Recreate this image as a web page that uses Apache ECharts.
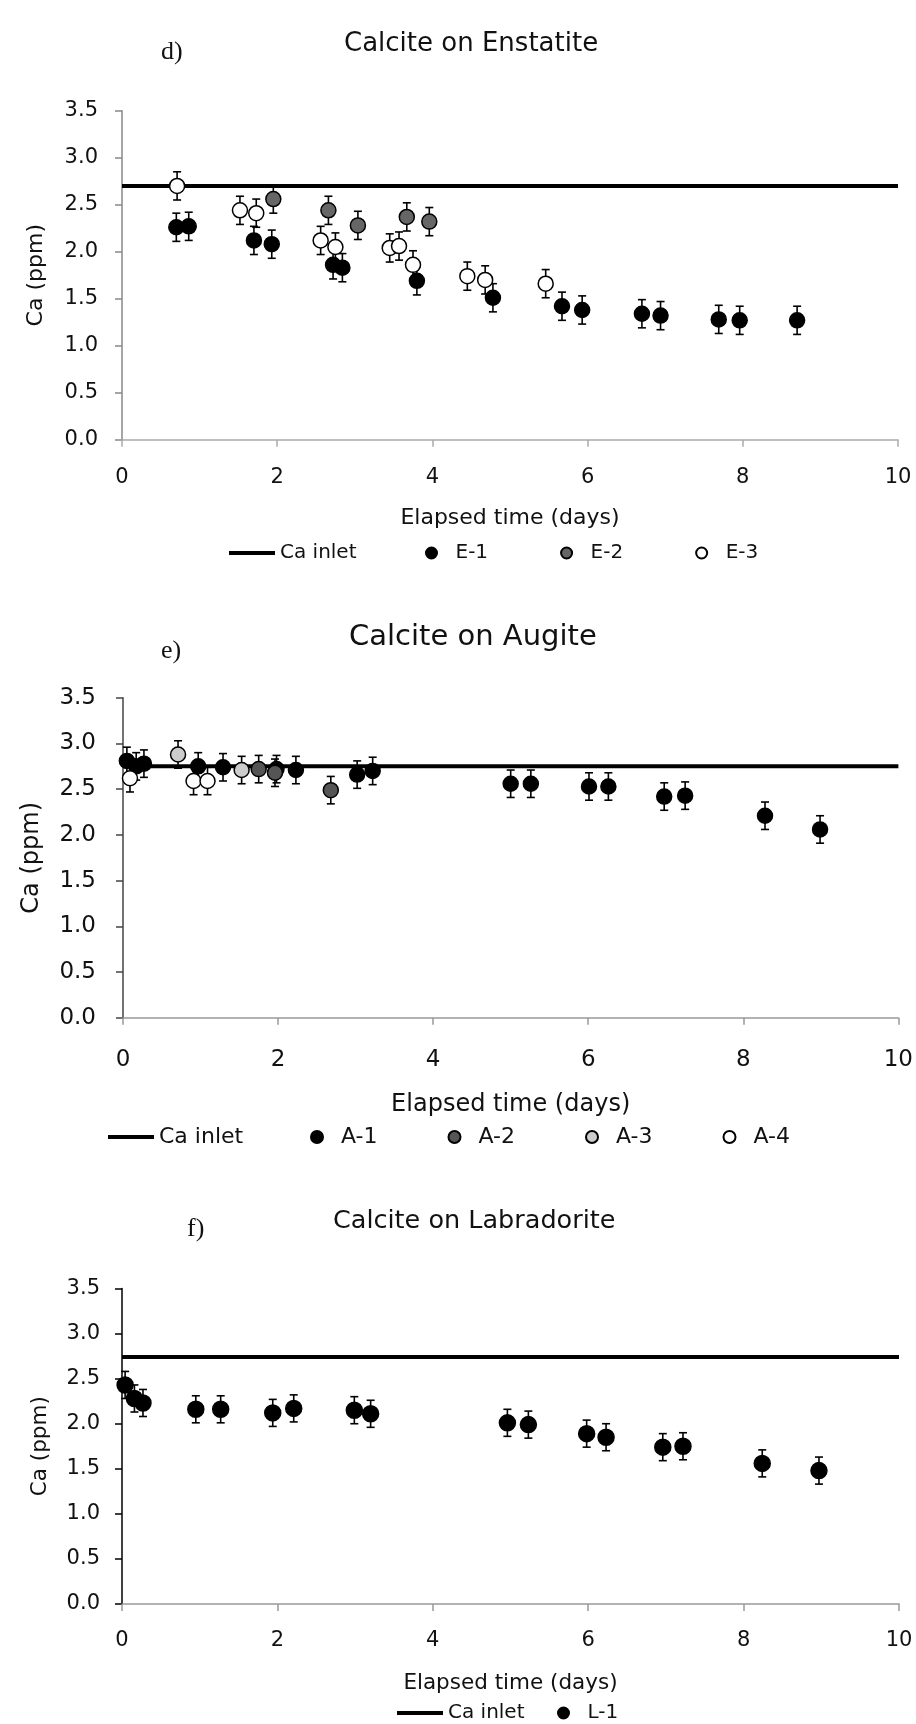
<!DOCTYPE html>
<html>
<head>
<meta charset="utf-8">
<script src="https://cdn.jsdelivr.net/npm/echarts@6/dist/echarts.min.js"></script>
<style>
html,body{margin:0;padding:0;background:#fff;}
#c{width:916px;height:1724px;}
</style>
</head>
<body>
<div id="c"></div>
<script>
// ---------- DATA ----------
const X_TICKS = [0, 2, 4, 6, 8, 10];
const Y_TICKS = ['0.0','0.5','1.0','1.5','2.0','2.5','3.0','3.5'];

// Panel d: Calcite on Enstatite
const D_INLET = 2.70;
const E1_x = [0.70, 0.86, 1.70, 1.93, 2.72, 2.84, 3.80, 4.78, 5.67, 5.93, 6.70, 6.94, 7.69, 7.96, 8.70];
const E1_y = [2.26, 2.27, 2.12, 2.08, 1.86, 1.83, 1.69, 1.51, 1.42, 1.38, 1.34, 1.32, 1.28, 1.27, 1.27];
const E2_x = [1.95, 2.66, 3.04, 3.67, 3.96];
const E2_y = [2.56, 2.44, 2.28, 2.37, 2.32];
const E3_x = [0.71, 1.52, 1.73, 2.56, 2.75, 3.45, 3.57, 3.75, 4.45, 4.68, 5.46];
const E3_y = [2.70, 2.44, 2.41, 2.12, 2.05, 2.04, 2.06, 1.86, 1.74, 1.70, 1.66];

// Panel e: Calcite on Augite
const E_INLET = 2.75;
const A1_x = [0.05, 0.17, 0.27, 0.97, 1.29, 1.98, 2.23, 3.02, 3.22, 5.00, 5.26, 6.01, 6.26, 6.98, 7.25, 8.28, 8.99];
const A1_y = [2.81, 2.75, 2.78, 2.75, 2.74, 2.72, 2.71, 2.66, 2.70, 2.56, 2.56, 2.53, 2.53, 2.42, 2.43, 2.21, 2.06];
const A2_x = [1.75, 1.96, 2.68];
const A2_y = [2.72, 2.68, 2.49];
const A3_x = [0.71, 1.53];
const A3_y = [2.88, 2.71];
const A4_x = [0.09, 0.91, 1.09];
const A4_y = [2.62, 2.59, 2.59];

// Panel f: Calcite on Labradorite
const F_INLET = 2.74;
const L1_x = [0.04, 0.16, 0.27, 0.95, 1.27, 1.94, 2.21, 2.99, 3.20, 4.96, 5.23, 5.98, 6.23, 6.96, 7.22, 8.24, 8.97];
const L1_y = [2.43, 2.28, 2.23, 2.16, 2.16, 2.12, 2.17, 2.15, 2.11, 2.01, 1.99, 1.89, 1.85, 1.74, 1.75, 1.56, 1.48];

// error bar half-width (ppm)
const ERR = 0.15;

// ---------- CHART ----------
const FONT = 'DejaVu Sans';
const pts = (xs, ys) => xs.map((x, i) => [x, ys[i]]);
const errPts = (xs, ys) => xs.map((x, i) => [x, ys[i], ERR]);

function renderErr(params, api) {
  const x = api.value(0), y = api.value(1), e = api.value(2);
  const hi = api.coord([x, y + e]);
  const lo = api.coord([x, y - e]);
  const w = 4;
  const st = { stroke: '#000', lineWidth: 1.6 };
  return { type: 'group', children: [
    { type: 'line', shape: { x1: hi[0], y1: hi[1], x2: lo[0], y2: lo[1] }, style: st },
    { type: 'line', shape: { x1: hi[0] - w, y1: hi[1], x2: hi[0] + w, y2: hi[1] }, style: st },
    { type: 'line', shape: { x1: lo[0] - w, y1: lo[1], x2: lo[0] + w, y2: lo[1] }, style: st }
  ]};
}

const panels = [
  { grid: { left: 122, right: 18, top: 110.7, height: 329 },
    yAxisColor: '#888', xAxisColor: '#aaa', tickFont: 21, nameFont: 22,
    yLabelMargin: 24, xLabelMargin: 27, xNameGap: 68, yNameGap: 75,
    inlet: D_INLET, size: 15,
    series: [
      { name: 'E-1', xs: E1_x, ys: E1_y, color: '#000' },
      { name: 'E-2', xs: E2_x, ys: E2_y, color: '#666' },
      { name: 'E-3', xs: E3_x, ys: E3_y, color: '#fff' }
    ]},
  { grid: { left: 123, right: 17, top: 697.8, height: 320 },
    yAxisColor: '#444', xAxisColor: '#999', tickFont: 23, nameFont: 24,
    yLabelMargin: 27, xLabelMargin: 31, xNameGap: 75, yNameGap: 79,
    inlet: E_INLET, size: 15,
    series: [
      { name: 'A-1', xs: A1_x, ys: A1_y, color: '#000' },
      { name: 'A-2', xs: A2_x, ys: A2_y, color: '#555' },
      { name: 'A-3', xs: A3_x, ys: A3_y, color: '#ccc' },
      { name: 'A-4', xs: A4_x, ys: A4_y, color: '#fff' }
    ]},
  { grid: { left: 122, right: 17, top: 1288.5, height: 315.5 },
    yAxisColor: '#000', xAxisColor: '#999', tickFont: 21, nameFont: 21.5,
    yLabelMargin: 22, xLabelMargin: 26, xNameGap: 68, yNameGap: 71,
    inlet: F_INLET, size: 16,
    series: [
      { name: 'L-1', xs: L1_x, ys: L1_y, color: '#000' }
    ]}
];

const lineLegend = (left, top, fs) => ({
  data: [{ name: 'Ca inlet', icon: 'rect' }], left: left, top: top, padding: 0,
  itemWidth: 46, itemHeight: 4, lineStyle: { width: 4 },
  textStyle: { fontFamily: FONT, fontSize: fs, color: '#111' }, selectedMode: false
});

const option = {
  animation: false,
  backgroundColor: '#fff',
  textStyle: { fontFamily: FONT },
  title: [
    { text: 'Calcite on Enstatite', left: 344, top: 31, padding: 0, textStyle: { fontFamily: FONT, fontSize: 26, fontWeight: 'normal', color: '#111' } },
    { text: 'd)', left: 161, top: 39, padding: 0, textStyle: { fontFamily: 'Liberation Serif', fontSize: 26, fontWeight: 'normal', color: '#111' } },
    { text: 'Calcite on Augite', left: 349, top: 623, padding: 0, textStyle: { fontFamily: FONT, fontSize: 29, fontWeight: 'normal', color: '#111' } },
    { text: 'e)', left: 161, top: 638, padding: 0, textStyle: { fontFamily: 'Liberation Serif', fontSize: 26, fontWeight: 'normal', color: '#111' } },
    { text: 'Calcite on Labradorite', left: 333, top: 1208, padding: 0, textStyle: { fontFamily: FONT, fontSize: 25.5, fontWeight: 'normal', color: '#111' } },
    { text: 'f)', left: 187, top: 1216, padding: 0, textStyle: { fontFamily: 'Liberation Serif', fontSize: 26, fontWeight: 'normal', color: '#111' } }
  ],
  grid: [], xAxis: [], yAxis: [], series: [],
  legend: [
    lineLegend(229, 543, 20),
    { data: ['E-1', 'E-2', 'E-3'], left: 425, top: 543, padding: 0, itemWidth: 38, itemHeight: 11, itemGap: 72,
      textStyle: { fontFamily: FONT, fontSize: 20, color: '#111' }, selectedMode: false },
    lineLegend(108, 1126, 22),
    { data: ['A-1', 'A-2', 'A-3', 'A-4'], left: 310, top: 1126, padding: 0, itemWidth: 38, itemHeight: 12, itemGap: 70,
      textStyle: { fontFamily: FONT, fontSize: 22, color: '#111' }, selectedMode: false },
    lineLegend(397, 1703, 20),
    { data: ['L-1'], left: 557, top: 1703, padding: 0, itemWidth: 38, itemHeight: 11,
      textStyle: { fontFamily: FONT, fontSize: 20, color: '#111' }, selectedMode: false }
  ]
};

panels.forEach((p, i) => {
  option.grid.push(Object.assign({ containLabel: false }, p.grid));
  option.xAxis.push({
    gridIndex: i, type: 'value', min: 0, max: 10, interval: 2,
    name: 'Elapsed time (days)', nameLocation: 'middle', nameGap: p.xNameGap,
    nameTextStyle: { fontFamily: FONT, fontSize: p.nameFont, color: '#111' },
    axisLine: { show: true, onZero: false, lineStyle: { color: p.xAxisColor, width: 1.5 } },
    axisTick: { show: true, length: 7, lineStyle: { color: p.xAxisColor, width: 1.5 } },
    axisLabel: { margin: p.xLabelMargin, fontFamily: FONT, fontSize: p.tickFont, color: '#111',
      formatter: v => String(X_TICKS[X_TICKS.indexOf(v)]) },
    splitLine: { show: false }
  });
  option.yAxis.push({
    gridIndex: i, type: 'value', min: 0, max: 3.5, interval: 0.5,
    name: 'Ca (ppm)', nameLocation: 'middle', nameGap: p.yNameGap, nameRotate: 90,
    nameTextStyle: { fontFamily: FONT, fontSize: p.nameFont, color: '#111' },
    axisLine: { show: true, lineStyle: { color: p.yAxisColor, width: 1.5 } },
    axisTick: { show: true, length: 7, lineStyle: { color: p.yAxisColor, width: 1.5 } },
    axisLabel: { margin: p.yLabelMargin, fontFamily: FONT, fontSize: p.tickFont, color: '#111',
      formatter: v => Y_TICKS[Math.round(v / 0.5)] },
    splitLine: { show: false }
  });
  option.series.push({
    name: 'Ca inlet', type: 'line', xAxisIndex: i, yAxisIndex: i,
    data: [[0, p.inlet], [10, p.inlet]], symbol: 'none', silent: true, z: 1,
    lineStyle: { color: '#000', width: 4 }, itemStyle: { color: '#000' }
  });
  p.series.forEach(s => {
    option.series.push({
      name: s.name + ' err', type: 'custom', xAxisIndex: i, yAxisIndex: i,
      data: errPts(s.xs, s.ys), renderItem: renderErr, silent: true, z: 2,
      encode: { x: 0, y: 1 }
    });
  });
  p.series.forEach(s => {
    option.series.push({
      name: s.name, type: 'scatter', xAxisIndex: i, yAxisIndex: i,
      data: pts(s.xs, s.ys), symbol: 'circle', symbolSize: p.size, silent: true, z: 3,
      itemStyle: { color: s.color, borderColor: '#000', borderWidth: 1.5, opacity: 1 }
    });
  });
});

const chart = echarts.init(document.getElementById('c'), null, { renderer: 'canvas' });
chart.setOption(option);
</script>
</body>
</html>
